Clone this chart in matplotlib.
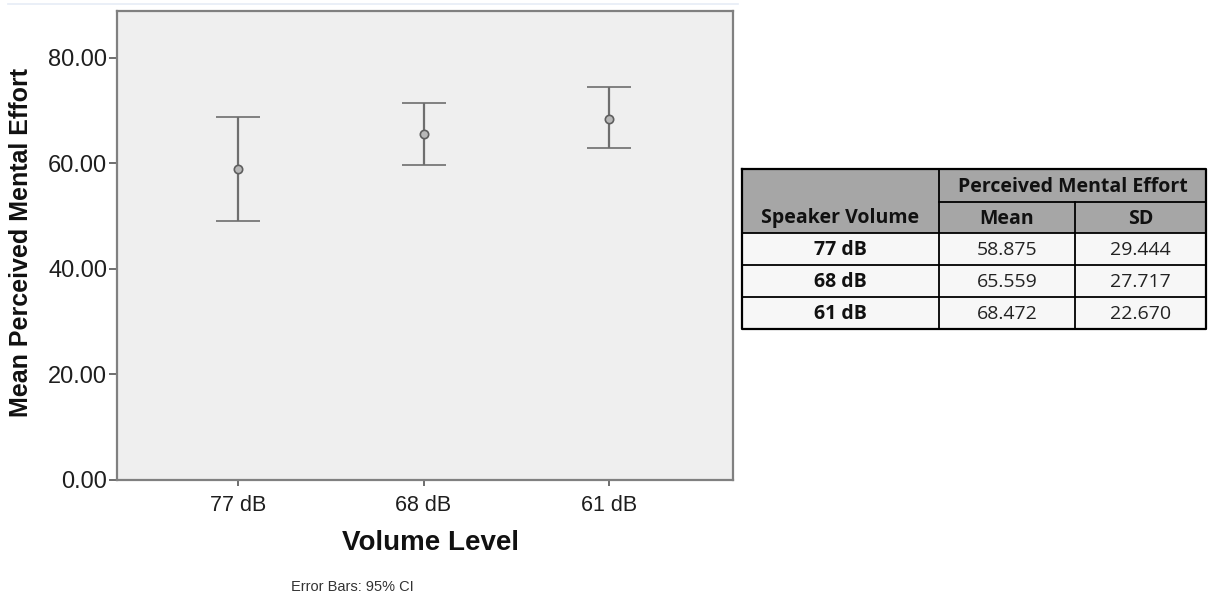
import matplotlib
matplotlib.use("Agg")
import matplotlib.pyplot as plt
from matplotlib.patches import Rectangle
from matplotlib.lines import Line2D

# Perceived mental effort by speaker volume
levels = ["77 dB", "68 dB", "61 dB"]
mean_effort = [58.875, 65.559, 68.472]
sd_effort = [29.444, 27.717, 22.670]
ci_lower = [49.0, 59.8, 63.0]
ci_upper = [68.8, 71.4, 74.4]
y_ticks = [0, 20, 40, 60, 80]

table_group = "Perceived Mental Effort"
table_row_header = "Speaker Volume"
table_cols = ["Mean", "SD"]

W, H = 1212, 599
fig = plt.figure(figsize=(W / 100, H / 100), dpi=100)
fig.patch.set_facecolor("white")

ARIAL = "Liberation Sans"
TABLE_FONT = "Open Sans"

# faint window rule along the top edge
fig.add_artist(Line2D([8 / W, 738 / W], [1 - 4 / H, 1 - 4 / H],
                      transform=fig.transFigure, color="#e6ecf6", lw=1.2))

# ---- error-bar chart ----
ax = fig.add_axes([117 / W, 1 - 480 / H, (733 - 117) / W, (480 - 11) / H])
ax.set_facecolor("#efefef")
xs = list(range(1, len(levels) + 1))
yerr = [[m - lo for m, lo in zip(mean_effort, ci_lower)],
        [hi - m for m, hi in zip(mean_effort, ci_upper)]]
ax.errorbar(xs, mean_effort, yerr=yerr, fmt="o", color="#6e6e6e",
            ecolor="#6e6e6e", elinewidth=1.6, capsize=16, capthick=1.6,
            ms=6, mfc="#b8b8b8", mec="#5e5e5e", mew=1.2, zorder=3)
ax.set_xlim(0.348, 3.668)
ax.set_ylim(0, 88.9)
ax.set_xticks(xs)
ax.set_xticklabels(levels, fontfamily=ARIAL, fontsize=15.5, color="#1e1e1e")
ax.set_yticks(y_ticks)
ax.set_yticklabels([f"{v:.2f}" for v in y_ticks], fontfamily=ARIAL,
                   fontsize=17, color="#1e1e1e")
for s in ax.spines.values():
    s.set_color("#808080")
    s.set_linewidth(1.6)
ax.tick_params(axis="y", length=6, width=1.2, color="#555555", pad=1)
ax.tick_params(axis="x", length=4, width=1.2, color="#555555", pad=7)

fig.text(21 / W, 1 - 243 / H, "Mean Perceived Mental Effort", rotation=90,
         ha="center", va="center", fontfamily=ARIAL, fontweight="bold",
         fontsize=18, color="#111111")
fig.text(431 / W, 1 - 543 / H, "Volume Level", ha="center", va="center",
         fontfamily=ARIAL, fontweight="bold", fontsize=20, color="#111111")
fig.text(352 / W, 1 - 587 / H, "Error Bars: 95% CI", ha="center", va="center",
         fontfamily=ARIAL, fontsize=10.5, color="#333333")

# ---- summary table ----
L, R, T, B = 742, 1206, 169, 329
tx = fig.add_axes([L / W, 1 - B / H, (R - L) / W, (B - T) / H])
tx.set_xlim(L, R)
tx.set_ylim(B, T)
tx.axis("off")

c0, c1, c2, c3 = L, 939, 1075, R
rows = [169, 202, 233, 265, 297, 329]
head_fill = "#a6a6a6"
body_fill = "#f7f7f7"
tx.add_patch(Rectangle((c0, rows[0]), c3 - c0, rows[2] - rows[0],
                       facecolor=head_fill, edgecolor="none"))
tx.add_patch(Rectangle((c0, rows[2]), c3 - c0, rows[5] - rows[2],
                       facecolor=body_fill, edgecolor="none"))

lk = dict(color="black", lw=1.3, solid_capstyle="projecting")
tx.plot([c0, c3, c3, c0, c0], [rows[0], rows[0], rows[5], rows[5], rows[0]],
        color="black", lw=1.6, clip_on=False)
tx.plot([c1, c1], [rows[0], rows[5]], **lk)
tx.plot([c2, c2], [rows[1], rows[5]], **lk)
tx.plot([c1, c3], [rows[1], rows[1]], **lk)
for yr in rows[2:5]:
    tx.plot([c0, c3], [yr, yr], **lk)

tfs = 14
tx.text((c1 + c3) / 2, (rows[0] + rows[1]) / 2 + 1, table_group, ha="center",
        va="center", fontfamily=TABLE_FONT, fontweight="bold", fontsize=tfs,
        color="#111111")
tx.text((c0 + c1) / 2, (rows[1] + rows[2]) / 2 + 1, table_row_header,
        ha="center", va="center", fontfamily=TABLE_FONT, fontweight="bold",
        fontsize=tfs, color="#111111")
for name, (a, b) in zip(table_cols, [(c1, c2), (c2, c3)]):
    tx.text((a + b) / 2, (rows[1] + rows[2]) / 2 + 1, name, ha="center",
            va="center", fontfamily=TABLE_FONT, fontweight="bold",
            fontsize=tfs, color="#111111")
for i, (lab, m, sd) in enumerate(zip(levels, mean_effort, sd_effort)):
    yc = (rows[2 + i] + rows[3 + i]) / 2 + 1
    tx.text((c0 + c1) / 2, yc, lab, ha="center", va="center",
            fontfamily=TABLE_FONT, fontweight="bold", fontsize=tfs,
            color="#111111")
    tx.text((c1 + c2) / 2, yc, f"{m:.3f}", ha="center", va="center",
            fontfamily=TABLE_FONT, fontsize=tfs, color="#222222")
    tx.text((c2 + c3) / 2, yc, f"{sd:.3f}", ha="center", va="center",
            fontfamily=TABLE_FONT, fontsize=tfs, color="#222222")

fig.savefig("out.png", dpi=100, facecolor="white")
